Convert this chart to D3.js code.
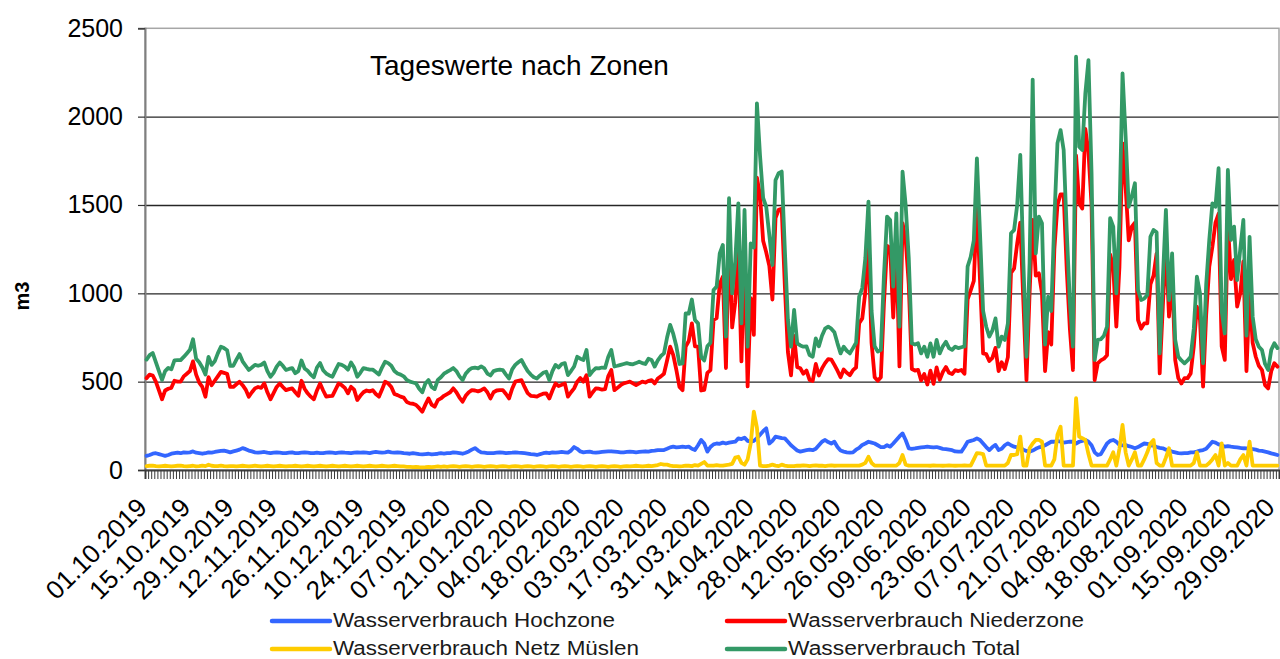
<!DOCTYPE html>
<html><head><meta charset="utf-8">
<script src="https://cdn.jsdelivr.net/npm/d3@7"></script>
<style>
body{margin:0;background:#fff;}
svg{display:block;font-family:"Liberation Sans",Arial,sans-serif;}
</style>
</head><body>
<svg id="chart" width="1280" height="659"></svg>
<script>
// ---------------- DATA ----------------
const title = "Tageswerte nach Zonen";
const yLabel = "m3";
const yTicks = [0, 500, 1000, 1500, 2000, 2500];
const tickLabels = ["01.10.2019","15.10.2019","29.10.2019","12.11.2019","26.11.2019","10.12.2019","24.12.2019",
  "07.01.2020","21.01.2020","04.02.2020","18.02.2020","03.03.2020","17.03.2020","31.03.2020","14.04.2020",
  "28.04.2020","12.05.2020","26.05.2020","09.06.2020","23.06.2020","07.07.2020","21.07.2020","04.08.2020",
  "18.08.2020","01.09.2020","15.09.2020","29.09.2020"];
const seriesNames = ["Wasserverbrauch Hochzone","Wasserverbrauch Niederzone","Wasserverbrauch Netz Müslen","Wasserverbrauch Total"];
const seriesColors = ["#3366ff","#ff0000","#ffcc00","#339966"];

const hochzone = [
 80,85,92,95,90,85,80,85,92,95,98,95,100,98,
 100,105,98,95,92,95,100,98,102,105,108,110,105,100,
 105,110,115,124,118,110,105,100,98,100,102,98,95,98,
 100,98,96,95,98,100,96,95,98,100,98,96,95,98,
 96,95,98,100,98,96,98,100,98,97,95,98,100,98,
 100,98,96,100,102,100,98,100,104,100,98,100,98,95,
 94,92,95,93,90,88,90,92,88,90,92,95,93,95,
 96,100,98,95,92,98,105,115,124,110,100,98,96,95,
 96,98,100,98,95,97,98,100,98,97,95,93,90,88,
 85,90,95,98,96,100,98,100,102,100,98,110,130,120,
 105,100,102,104,100,98,100,102,104,105,106,104,102,100,
 100,102,104,103,100,102,104,106,104,108,110,113,112,113,
 120,128,132,128,130,132,130,132,120,113,140,170,150,104,
 130,145,150,148,155,150,155,158,160,179,175,183,165,160,
 165,180,200,220,236,150,165,189,185,180,179,160,140,125,
 110,104,108,112,115,112,120,140,160,170,158,150,160,130,
 110,104,100,98,100,115,125,142,150,160,155,150,140,130,
 130,140,132,150,170,190,207,170,123,120,122,125,128,130,
 132,130,128,130,125,120,118,115,112,105,104,104,130,160,
 165,170,179,170,150,130,113,130,142,113,120,140,151,140,
 132,128,125,115,108,104,110,120,128,132,140,150,160,160,
 165,160,155,158,160,160,150,160,165,170,160,140,100,85,
 90,120,150,165,170,160,142,140,142,135,130,123,130,140,
 150,148,140,138,130,125,123,115,110,104,100,96,94,96,
 96,100,100,104,110,113,120,140,160,155,145,140,132,135,
 132,130,128,125,123,122,120,118,115,110,108,104,100,94,90,85];

const niederzone = [
 520,540,535,500,450,400,450,460,465,505,500,500,530,545,
 560,615,540,495,470,415,525,480,505,530,555,550,545,470,
 470,485,500,480,455,415,440,462,470,465,490,440,400,435,
 470,490,470,452,458,462,440,420,505,460,434,415,400,450,
 490,450,415,418,420,455,490,480,465,434,471,455,396,420,
 440,450,445,452,430,415,455,500,490,470,430,424,415,410,
 385,377,375,368,350,330,370,405,370,358,395,405,420,430,
 440,462,440,410,387,420,440,452,450,445,452,462,440,405,
 440,450,452,452,430,405,460,500,505,509,470,435,420,418,
 415,425,432,434,405,450,490,475,482,490,415,440,462,500,
 520,500,537,415,440,462,460,455,458,530,566,452,465,480,
 490,495,500,490,480,490,500,495,505,509,490,518,530,545,
 620,698,650,566,470,452,698,730,830,700,698,450,453,550,
 565,849,860,1053,1094,577,1353,807,950,1255,615,1259,473,973,
 765,1655,1555,1298,1232,1155,965,1426,1473,1479,1046,668,536,759,
 582,576,545,563,510,504,600,535,575,605,628,625,595,562,
 525,569,550,537,565,580,831,858,1010,1284,720,525,505,525,
 945,1269,1258,863,1258,586,1397,1305,1052,572,563,567,507,543,
 484,562,488,581,510,555,583,550,543,565,560,566,545,966,
 1017,1070,1489,1076,660,656,617,635,691,560,610,571,639,1115,
 1141,1282,1400,950,508,1000,1415,1100,1113,1000,560,780,710,1250,
 1500,1560,1560,1132,800,566,1780,1509,1480,1930,1800,1500,509,604,
 620,630,650,1220,1150,811,1150,1849,1600,1300,1377,1400,849,800,
 830,830,1050,1100,1226,547,925,1280,868,1100,623,520,490,520,
 520,547,700,925,850,472,880,1151,1264,1400,1450,700,623,1400,
 1080,1189,925,1000,1180,560,1000,720,641,590,566,480,462,560,604,585];

const muslen = [
 22,24,25,22,20,22,24,22,20,22,24,25,22,20,
 22,24,20,22,25,22,30,24,22,22,25,22,20,22,
 22,20,22,24,22,20,22,24,22,20,22,24,22,20,
 22,24,22,20,22,22,24,22,20,22,24,22,20,22,
 24,22,20,22,24,22,20,22,24,22,20,22,24,22,
 20,22,24,22,20,22,24,22,20,22,24,22,20,20,
 18,18,16,18,16,15,16,18,16,18,20,18,20,18,
 20,22,20,18,20,22,20,18,20,22,20,18,20,22,
 20,18,20,22,20,18,20,22,20,18,20,22,20,18,
 20,22,20,18,20,22,20,18,20,22,20,18,20,22,
 20,18,20,22,20,18,20,22,20,18,20,22,20,18,
 20,22,20,22,24,22,20,22,24,22,25,28,34,30,
 30,25,22,22,20,22,25,24,22,28,25,35,45,25,
 25,25,28,25,25,28,30,35,70,75,40,30,60,150,
 330,240,25,22,22,25,30,25,22,30,25,22,22,22,
 25,24,26,25,22,25,26,24,25,22,25,26,24,25,
 25,25,25,25,25,25,25,30,40,75,40,25,25,25,
 25,25,25,25,25,40,85,30,25,25,25,25,25,25,
 25,24,26,25,25,24,25,26,25,24,25,25,26,25,
 25,60,96,94,90,25,25,25,25,25,25,25,40,85,
 85,90,189,25,25,123,150,170,170,160,25,25,25,60,
 200,245,25,25,25,25,406,189,180,170,90,25,25,25,
 25,25,25,60,100,25,120,255,100,25,60,100,25,25,
 60,100,150,170,40,25,25,70,123,25,25,25,25,25,
 25,25,40,100,25,25,25,40,60,85,25,151,25,40,
 25,25,25,60,85,25,160,25,25,25,25,25,25,25,25,25];

const total = [
 625,650,662,610,560,510,560,578,570,620,622,622,640,660,
 680,740,630,610,580,540,640,595,615,660,698,690,678,590,
 590,625,656,615,590,566,580,595,590,595,608,560,528,550,
 585,608,590,566,572,577,548,560,620,575,562,540,525,580,
 605,565,546,535,528,565,600,595,585,568,608,580,528,550,
 577,572,568,568,555,540,580,613,605,590,560,546,540,530,
 510,500,495,490,460,440,490,509,470,458,510,525,545,556,
 565,577,560,530,509,545,565,577,580,575,586,575,546,535,
 560,565,568,565,540,518,570,595,610,623,590,560,540,525,
 518,535,550,556,509,560,595,580,600,605,537,560,586,641,
 630,623,679,537,560,577,575,580,578,640,679,586,590,595,
 600,605,600,598,605,613,605,600,630,623,585,620,645,660,
 750,821,770,700,600,604,887,885,965,849,830,640,620,700,
 720,1019,1038,1226,1274,755,1538,1000,1180,1509,830,1472,698,1283,
 1260,2075,1780,1540,1490,1330,1160,1640,1680,1689,1250,850,698,906,
 717,705,698,700,650,641,745,700,760,800,811,800,780,717,
 660,698,675,660,690,720,981,1030,1200,1519,900,700,670,680,
 1100,1434,1415,1038,1453,811,1689,1500,1200,717,710,717,660,698,
 641,717,641,736,660,700,726,690,680,698,690,695,700,1151,
 1207,1300,1764,1340,900,811,755,790,858,698,755,736,830,1340,
 1358,1500,1783,1170,641,1170,2210,1226,1434,1396,710,981,900,1420,
 1850,1924,1811,1350,950,698,2339,1830,1811,2132,2320,1679,623,736,
 740,760,811,1425,1377,1000,1415,2245,1887,1490,1550,1623,1019,962,
 970,990,1320,1358,1345,660,1075,1472,962,1226,736,641,620,604,
 620,641,800,1094,1000,604,1050,1302,1509,1490,1708,900,773,1698,
 1302,1377,1075,1250,1415,760,1320,868,740,698,679,600,566,680,717,690];

// daily categories 01.10.2019 .. 30.09.2020
const fmt = d3.utcFormat("%d.%m.%Y");
const categories = d3.utcDay.range(new Date(Date.UTC(2019,9,1)), new Date(Date.UTC(2020,9,1))).map(fmt);

// ---------------- LAYOUT ----------------
const L = 145, R = 1279, T = 28.3, B = 470;
const svg = d3.select("#chart");

const x = d3.scaleBand().domain(categories).range([L, R]).padding(0);
const xi = d3.scaleLinear().domain([0, categories.length]).range([L, R]);
const y = d3.scaleLinear().domain([0, 2500]).range([B, T]);
const bw = x.bandwidth();

// gridlines
const grid = svg.append("g").attr("transform", `translate(${L},0)`)
  .call(d3.axisLeft(y).tickValues(yTicks.filter(v => v > 0 && v < 2500)).tickSize(-(R - L)).tickFormat(""));
grid.select(".domain").remove();
grid.selectAll("line").attr("stroke", "#262626").attr("stroke-width", 1.3);

// plot border
svg.append("rect").attr("x", L).attr("y", T).attr("width", R - L).attr("height", B - T)
  .attr("fill", "none").attr("stroke", "#a6a6a6").attr("stroke-width", 1.5);

// y axis
const ya = svg.append("g").attr("transform", `translate(${L},0)`)
  .call(d3.axisLeft(y).tickValues(yTicks).tickSize(7).tickPadding(15).tickFormat(d3.format("d")));
ya.select(".domain").attr("stroke", "#7f7f7f").attr("stroke-width", 2);
ya.selectAll("line").attr("stroke", "#333").attr("stroke-width", 1.2);
ya.selectAll("text").attr("font-size", "25px").attr("fill", "#000")
  .attr("font-family", "'Liberation Sans', Arial, sans-serif");

// x minor ticks (one per day)
const xa = svg.append("g").attr("transform", `translate(0,${B})`)
  .call(d3.axisBottom(xi).tickValues(d3.range(0, categories.length + 1)).tickSize(9).tickFormat(""));
xa.select(".domain").attr("stroke", "#404040").attr("stroke-width", 2);
xa.selectAll(".tick line").attr("stroke", "#3a3a3a").attr("stroke-width", 1);

// x labels
svg.append("g").selectAll("text").data(tickLabels).join("text")
  .attr("transform", d => `translate(${x(d) + bw / 2 + 2},${B + 39}) rotate(-45)`)
  .attr("text-anchor", "end")
  .attr("font-size", "26px")
  .attr("fill", "#000")
  .text(d => d);

// y label
svg.append("text").attr("transform", "translate(29,296) rotate(-90)")
  .attr("text-anchor", "middle").attr("font-size", "20px").attr("font-weight", "bold")
  .text(yLabel);

// title
svg.append("text").attr("x", 370).attr("y", 75).attr("font-size", "28px").attr("fill", "#000").text(title);

// lines
const line = d3.line().x((d, i) => x(categories[i]) + bw / 2).y(d => y(d)).curve(d3.curveLinear);
const allSeries = [hochzone, niederzone, muslen, total];
const g = svg.append("g");
allSeries.forEach((s, k) => {
  g.append("path").datum(s).attr("d", line).attr("fill", "none")
    .attr("stroke", seriesColors[k]).attr("stroke-width", 3.8)
    .attr("stroke-linejoin", "round").attr("stroke-linecap", "round");
});

// legend
const legPos = [[272, 621], [727, 621], [272, 649], [727, 649]];
const legWidths = [282, 296, 306, 232];
const leg = svg.append("g");
seriesNames.forEach((name, k) => {
  const [lx, ly] = legPos[k];
  leg.append("line").attr("x1", lx).attr("x2", lx + 58).attr("y1", ly).attr("y2", ly)
    .attr("stroke", seriesColors[k]).attr("stroke-width", 4.5).attr("stroke-linecap", "round");
  leg.append("text").attr("x", lx + 61).attr("y", ly + 6)
    .attr("font-size", "20px").attr("fill", "#1a1a1a")
    .attr("textLength", legWidths[k]).attr("lengthAdjust", "spacingAndGlyphs")
    .text(name);
});
</script>
</body></html>
